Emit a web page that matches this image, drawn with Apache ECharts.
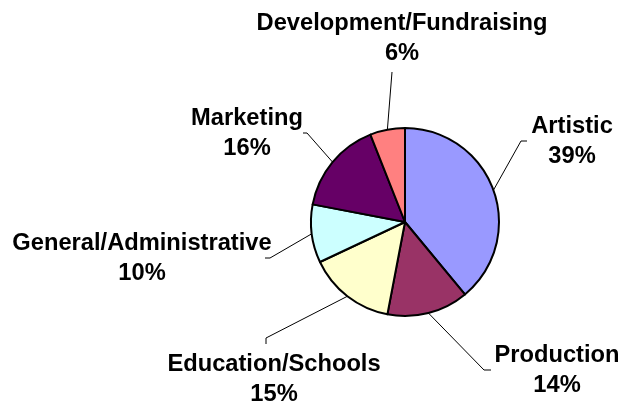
<!DOCTYPE html>
<html>
<head>
<meta charset="utf-8">
<script src="https://cdn.jsdelivr.net/npm/echarts@6/dist/echarts.min.js"></script>
<style>
  html, body { margin: 0; padding: 0; background: #ffffff; }
  #chart { width: 623px; height: 405px; }
</style>
</head>
<body>
<div id="chart"></div>
<script>
// Expense categories and their share of the budget (percent)
const categories = ['Artistic', 'Production', 'Education/Schools', 'General/Administrative', 'Marketing', 'Development/Fundraising'];
const shares = [39, 14, 15, 10, 16, 6];
const sliceColors = ['#9999FF', '#993366', '#FFFFCC', '#CCFFFF', '#660066', '#FF8080'];

// Label block centres and leader-line hook points (bend, end) per category
const labelCenters = [[572, 141], [557, 370], [274, 379], [142, 258], [247, 133], [402, 38]];
const leaderHooks = [
  [[521, 141], [527, 141]],
  [[484, 370], [491, 370]],
  [[266, 338], [266, 344]],
  [[270, 258], [265, 258]],
  [[307, 133], [303, 133]],
  [[392, 72]]
];

const chart = echarts.init(document.getElementById('chart'), null, { renderer: 'canvas' });

chart.setOption({
  backgroundColor: '#ffffff',
  animation: false,
  series: [{
    type: 'pie',
    center: [405, 222],
    radius: 94,
    startAngle: 90,
    clockwise: true,
    avoidLabelOverlap: false,
    data: categories.map((name, i) => ({
      name: name,
      value: shares[i],
      itemStyle: { color: sliceColors[i] }
    })),
    itemStyle: { borderColor: '#000000', borderWidth: 2 },
    label: {
      show: true,
      position: 'outside',
      formatter: '{b}\n{c}%',
      fontFamily: 'Liberation Sans, Arial, sans-serif',
      fontWeight: 'bold',
      fontSize: 23.7,
      lineHeight: 30,
      color: '#000000',
      align: 'center'
    },
    labelLine: {
      show: true,
      length: 10,
      length2: 10,
      lineStyle: { color: '#000000', width: 1 }
    },
    labelLayout: function (params) {
      const i = params.dataIndex;
      const edge = params.labelLinePoints ? params.labelLinePoints[0] : null;
      const out = {
        x: labelCenters[i][0],
        y: labelCenters[i][1],
        align: 'center',
        verticalAlign: 'middle'
      };
      if (edge) {
        out.labelLinePoints = [edge].concat(leaderHooks[i]);
      }
      return out;
    },
    emphasis: { disabled: true }
  }]
});
</script>
</body>
</html>
